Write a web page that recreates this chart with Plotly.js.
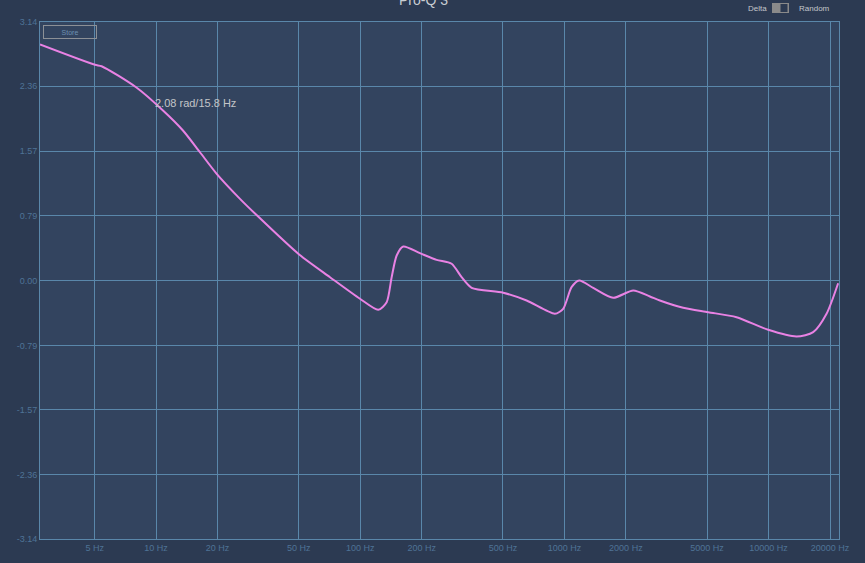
<!DOCTYPE html>
<html>
<head>
<meta charset="utf-8">
<script src="https://cdn.plot.ly/plotly-3.0.1.min.js"></script>
<style>
html,body{margin:0;padding:0;background:#2c3a52;}
#chart{width:865px;height:563px;}
</style>
</head>
<body>
<div id="chart"></div>
<script>
const freqHz = [2.70, 5.02, 5.41, 8.04, 10.81, 13.54, 16.40, 19.81, 25.76, 30.5, 50.2, 71.1, 99.7, 122.5, 134.7, 142.5, 150.8, 162.4, 196.0, 236.6, 280.3, 313.7, 351.2, 501.5, 653, 898, 986, 1084, 1182, 1384, 1734, 2173, 2623, 2935, 3817, 5061, 6970, 9954, 13715, 16537, 19230, 21920];
const phaseRad = [2.867, 2.620, 2.603, 2.341, 2.065, 1.822, 1.558, 1.296, 0.992, 0.814, 0.316, 0.040, -0.222, -0.356, -0.264, 0.040, 0.304, 0.413, 0.332, 0.251, 0.203, 0.040, -0.089, -0.149, -0.243, -0.404, -0.344, -0.081, 0.000, -0.089, -0.210, -0.121, -0.194, -0.243, -0.332, -0.385, -0.446, -0.599, -0.680, -0.628, -0.404, -0.033];
const xTickVals = [5, 10, 20, 50, 100, 200, 500, 1000, 2000, 5000, 10000, 20000];
const xTickText = ["5 Hz", "10 Hz", "20 Hz", "50 Hz", "100 Hz", "200 Hz", "500 Hz", "1000 Hz", "2000 Hz", "5000 Hz", "10000 Hz", "20000 Hz"];
const yTickVals = [-3.14, -2.36, -1.57, -0.79, 0, 0.79, 1.57, 2.36, 3.14];
const yTickText = ["-3.14", "-2.36", "-1.57", "-0.79", "0.00", "0.79", "1.57", "2.36", "3.14"];
const titleText = "Pro-Q 3";
const cursorText = "2.08 rad/15.8 Hz";

const gridCol = "#5a87aa";
const tickFont = {family: "Liberation Sans, Arial, sans-serif", size: 9, color: "#4f7396"};

const trace = {
  x: freqHz, y: phaseRad, type: "scatter", mode: "lines",
  line: {color: "#e982e4", width: 2, shape: "spline", smoothing: 0.7},
  hoverinfo: "skip"
};

const W = 799, H = 517;
function px(x){ return (x - 40) / W; }
function py(y){ return 1 - (y - 22) / H; }

const layout = {
  width: 865, height: 563,
  margin: {l: 40, r: 26, t: 22, b: 24, pad: 0},
  paper_bgcolor: "#2c3a52",
  plot_bgcolor: "#33445f",
  showlegend: false,
  xaxis: {
    type: "log",
    range: [Math.log10(2.7), Math.log10(22130)],
    tickvals: xTickVals, ticktext: xTickText,
    showgrid: true, gridcolor: gridCol, gridwidth: 1,
    showline: true, linecolor: gridCol, linewidth: 1, mirror: true,
    zeroline: false, ticks: "", tickfont: tickFont
  },
  yaxis: {
    range: [-3.14, 3.14],
    tickvals: yTickVals, ticktext: yTickText,
    showgrid: true, gridcolor: gridCol, gridwidth: 1,
    showline: true, linecolor: gridCol, linewidth: 1, mirror: true,
    zeroline: false, ticks: "", tickfont: tickFont
  },
  annotations: [
    {xref: "paper", yref: "paper", x: px(423), y: py(10), xanchor: "center", yanchor: "bottom",
     text: titleText, showarrow: false, font: {family: "Liberation Sans, Arial, sans-serif", size: 14, color: "#c9cdd2"}},
    {xref: "paper", yref: "paper", x: px(153), y: py(103), xanchor: "left", yanchor: "middle",
     text: cursorText, showarrow: false, font: {family: "Liberation Sans, Arial, sans-serif", size: 11, color: "#c3c5c8"}},
    {xref: "paper", yref: "paper", x: px(70), y: py(32.5), xanchor: "center", yanchor: "middle",
     text: "Store", showarrow: false, width: 50, height: 10, borderpad: 1,
     bordercolor: "#8c9096", borderwidth: 1, font: {family: "Liberation Sans, Arial, sans-serif", size: 7, color: "#6e90b2"}},
    {xref: "paper", yref: "paper", x: px(757), y: py(8), xanchor: "center", yanchor: "middle",
     text: "Delta", showarrow: false, font: {family: "Liberation Sans, Arial, sans-serif", size: 8, color: "#c3c6ca"}},
    {xref: "paper", yref: "paper", x: px(814), y: py(8), xanchor: "center", yanchor: "middle",
     text: "Random", showarrow: false, font: {family: "Liberation Sans, Arial, sans-serif", size: 8, color: "#c3c6ca"}}
  ],
  shapes: [
    {type: "rect", xref: "paper", yref: "paper", x0: px(772), x1: px(789), y0: py(13), y1: py(3),
     fillcolor: "#8a8a8a", line: {width: 0}, layer: "above"},
    {type: "rect", xref: "paper", yref: "paper", x0: px(780.5), x1: px(787.5), y0: py(12), y1: py(4),
     fillcolor: "#2c3a52", line: {width: 0}, layer: "above"}
  ]
};

Plotly.newPlot("chart", [trace], layout, {displayModeBar: false, staticPlot: true});
</script>
</body>
</html>
